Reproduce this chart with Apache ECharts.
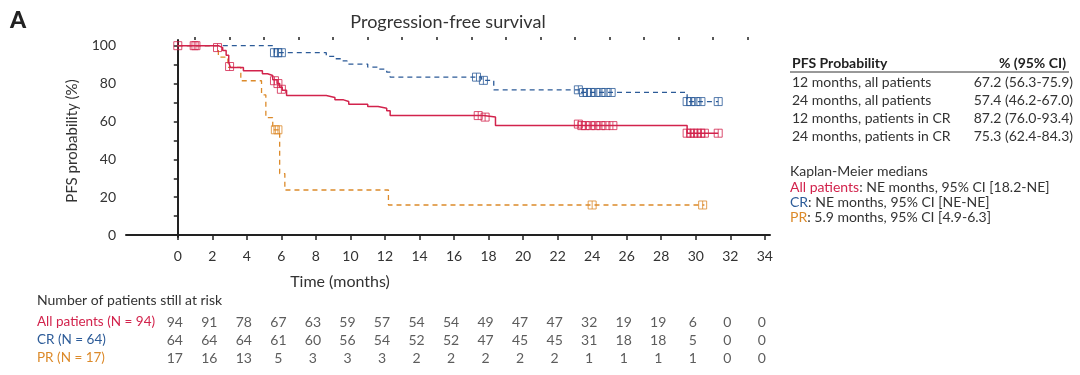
<!DOCTYPE html>
<html><head><meta charset="utf-8">
<script src="https://cdn.jsdelivr.net/npm/echarts@6/dist/echarts.min.js"></script>
<style>html,body{margin:0;padding:0;background:#fff}#c{width:1080px;height:375px}</style>
</head><body><div id="c"></div>
<script>
// ---------- data ----------
const xTicks = [0,2,4,6,8,10,12,14,16,18,20,22,24,26,28,30,32,34];
const yTicks = [0,20,40,60,80,100];

// All patients (solid red) KM steps
const allT = [0,2.35,2.6,2.8,2.95,3.05,3.8,4.9,5.2,5.5,5.75,5.9,6.05,6.3,8.6,9.1,9.6,9.9,11.0,11.6,12.1,12.3,17.7,18.4,29.5,31.3];
const allS = [100,99,97.5,95,91,88.5,86.8,85.2,84.3,82,80,78,76.5,73.7,72.7,71.4,70.5,69.1,67.9,67,65.6,63.1,62.3,57.8,53.8,53.8];
const allCensT = [0,0.95,1.05,2.3,3.0,5.6,5.8,6.0,17.4,17.8,23.2,23.4,23.6,23.9,24.2,24.5,24.8,25.2,29.5,29.7,29.9,30.1,30.3,30.5,31.3];
const allCensS = [100,100,100,99,89,81.5,80,77,63.1,62.3,58.6,57.8,57.8,57.8,57.8,57.8,57.8,57.8,53.8,53.8,53.8,53.8,53.8,53.8,53.8];

// CR (dashed blue)
const crT = [0,5.6,8.6,9.1,9.5,9.8,11.0,11.6,12.1,12.3,17.6,18.3,23.3,29.5,31.3];
const crS = [100,96.3,94.4,93.1,92,90.3,88.7,87.6,86,83.4,81.7,76.7,75.3,70.5,70.5];
const crCensT = [5.6,5.8,6.0,17.3,17.7,23.2,23.5,23.7,23.9,24.2,24.5,24.8,25.1,29.5,29.7,30.0,30.3,31.3];
const crCensS = [96.3,96.3,96.3,83.4,81.7,76.7,75.3,75.3,75.3,75.3,75.3,75.3,75.3,70.5,70.5,70.5,70.5,70.5];

// PR (dashed orange)
const prT = [0,2.35,2.9,3.65,4.85,5.1,5.5,5.9,6.2,12.2,30.5];
const prS = [100,94,88.5,81.5,74,62,55.6,32.5,23.8,15.9,15.9];
const prCensT = [5.65,5.8,24.0,30.4];
const prCensS = [55.6,55.6,15.9,15.9];

// Number at risk
const riskRows = ['All patients (N = 94)','CR (N = 64)','PR (N = 17)'];
const riskAll = [94,91,78,67,63,59,57,54,54,49,47,47,32,19,19,6,0,0];
const riskCR  = [64,64,64,61,60,56,54,52,52,47,45,45,31,18,18,5,0,0];
const riskPR  = [17,16,13,5,3,3,3,2,2,2,2,2,1,1,1,1,0,0];

// Table
const tableRows = ['12 months, all patients','24 months, all patients','12 months, patients in CR','24 months, patients in CR'];
const tableVals = ['67.2 (56.3-75.9)','57.4 (46.2-67.0)','87.2 (76.0-93.4)','75.3 (62.4-84.3)'];

const RED = '#d2234c', BLUE = '#2c5b98', ORANGE = '#dc8a2a';
const FONT = 'Lato';
const censorSym = 'path://M0,0H10V10H0ZM5,0V10';

const zip = (a,b) => a.map((v,i)=>[v,b[i]]);
const oddTicks = []; for (let i=1;i<34;i+=2) oddTicks.push(i);

function censor(t,s,color){
  return {type:'scatter', xAxisIndex:0, yAxisIndex:0, data:zip(t,s), symbol:censorSym, symbolSize:[8,8],
    itemStyle:{color:'rgba(255,255,255,0)', borderColor:color, borderWidth:1}, z:5, silent:true};
}
function kmLine(t,s,color,dashed,w){
  return {type:'line', xAxisIndex:0, yAxisIndex:0, data:zip(t,s), step:'end', showSymbol:false, symbol:'none',
    lineStyle:{color:color, width:w, type: dashed?[5,4]:'solid'}, z:3, silent:true};
}
function riskSeries(vals,row){
  return {type:'scatter', xAxisIndex:2, yAxisIndex:1, symbolSize:0,
    data: vals.map((v,i)=>[xTicks[i], row, v]),
    label:{show:true, position:'inside', offset:[-3,0], formatter:p=>String(p.data[2]), color:'#333', fontSize:14, fontFamily:FONT},
    silent:true};
}

const chart = echarts.init(document.getElementById('c'), null, {renderer:'canvas'});
const graphics = [];
graphics.push({type:'text', left:10, top:9, style:{text:'A', fontSize:23, fontWeight:900, fontFamily:FONT, fill:'#222'}});
graphics.push({type:'text', x:448, y:22, style:{text:'Progression-free survival', fontSize:18, fontFamily:FONT, fill:'#333', align:'center', verticalAlign:'middle'}});
graphics.push({type:'text', x:72, y:141, rotation:Math.PI/2, style:{text:'PFS probability (%)', fontSize:15, fontFamily:FONT, fill:'#333', align:'center', verticalAlign:'middle'}});
graphics.push({type:'text', x:340, y:282, style:{text:'Time (months)', fontSize:16, fontFamily:FONT, fill:'#333', align:'center', verticalAlign:'middle'}});
graphics.push({type:'text', x:37, y:300, style:{text:'Number of patients still at risk', fontSize:14, fontFamily:FONT, fill:'#333', verticalAlign:'middle'}});
const rowColors = [RED, BLUE, ORANGE];
riskRows.forEach((r,i)=>graphics.push({type:'text', x:37, y:322+i*18, style:{text:r, fontSize:13.5, fontFamily:FONT, fill:rowColors[i], verticalAlign:'middle'}}));
// right table
graphics.push({type:'text', x:792, y:63, style:{text:'PFS Probability', fontSize:14, fontWeight:'bold', fontFamily:FONT, fill:'#222', verticalAlign:'middle'}});
graphics.push({type:'text', x:1066, y:63, style:{text:'% (95% CI)', fontSize:14, fontWeight:'bold', fontFamily:FONT, fill:'#222', align:'right', verticalAlign:'middle'}});
graphics.push({type:'line', shape:{x1:790, y1:72, x2:1069, y2:72}, style:{stroke:'#333', lineWidth:1}});
tableRows.forEach((r,i)=>{
  graphics.push({type:'text', x:792, y:82+i*18.3, style:{text:r, fontSize:14, fontFamily:FONT, fill:'#333', verticalAlign:'middle'}});
  graphics.push({type:'text', x:1073, y:82+i*18.3, style:{text:tableVals[i], fontSize:14, fontFamily:FONT, fill:'#333', align:'right', verticalAlign:'middle'}});
});
graphics.push({type:'text', x:790, y:171, style:{text:'Kaplan-Meier medians', fontSize:14, fontFamily:FONT, fill:'#333', verticalAlign:'middle'}});
const medians = [['All patients', ': NE months, 95% CI [18.2-NE]', RED],['CR', ': NE months, 95% CI [NE-NE]', BLUE],['PR', ': 5.9 months, 95% CI [4.9-6.3]', ORANGE]];
medians.forEach((m,i)=>{
  graphics.push({type:'text', x:790, y:187+i*15, style:{
    text:'{c|'+m[0]+'}{d|'+m[1]+'}', fontSize:14, fontFamily:FONT, verticalAlign:'middle',
    rich:{c:{fill:m[2], fontSize:14, fontFamily:FONT}, d:{fill:'#333', fontSize:14, fontFamily:FONT}}}});
});

chart.setOption({
  animation:false,
  backgroundColor:'#fff',
  textStyle:{fontFamily:FONT},
  grid:[{left:126, top:40, width:644, height:197},{left:126, top:313, width:644, height:54}],
  xAxis:[
    {type:'value', gridIndex:0, min:-3, max:34.3,
      axisLine:{show:true, lineStyle:{color:'#222', width:2}},
      axisTick:{show:true, customValues:xTicks, length:5, lineStyle:{color:'#222', width:1.5}},
      axisLabel:{show:true, customValues:xTicks, color:'#333', fontSize:14, margin:12, fontFamily:FONT},
      splitLine:{show:false}},
    {type:'value', gridIndex:0, min:-3, max:34.3,
      axisLine:{show:false},
      axisTick:{show:true, customValues:oddTicks, length:3, lineStyle:{color:'#222', width:1.5}},
      axisLabel:{show:false}, splitLine:{show:false}},
    {type:'value', gridIndex:1, min:-3, max:34.3, show:false}
  ],
  yAxis:[
    {type:'value', gridIndex:0, min:-1, max:103,
      axisLine:{show:true, lineStyle:{color:'#222', width:2}},
      axisTick:{show:true, customValues:[0,10,20,30,40,50,60,70,80,90,100], length:4, lineStyle:{color:'#222', width:1.5}},
      axisLabel:{show:true, customValues:yTicks, color:'#333', fontSize:14, margin:10, fontFamily:FONT},
      splitLine:{show:false}},
    {type:'category', gridIndex:1, data:[0,1,2], inverse:true, show:false}
  ],
  series:[
    kmLine(crT,crS,BLUE,true,1.3),
    kmLine(prT,prS,ORANGE,true,1.3),
    kmLine(allT,allS,RED,false,1.5),
    censor(crCensT,crCensS,BLUE),
    censor(prCensT,prCensS,ORANGE),
    censor(allCensT,allCensS,RED),
    riskSeries(riskAll,0),
    riskSeries(riskCR,1),
    riskSeries(riskPR,2)
  ],
  graphic:graphics
});
</script></body></html>
